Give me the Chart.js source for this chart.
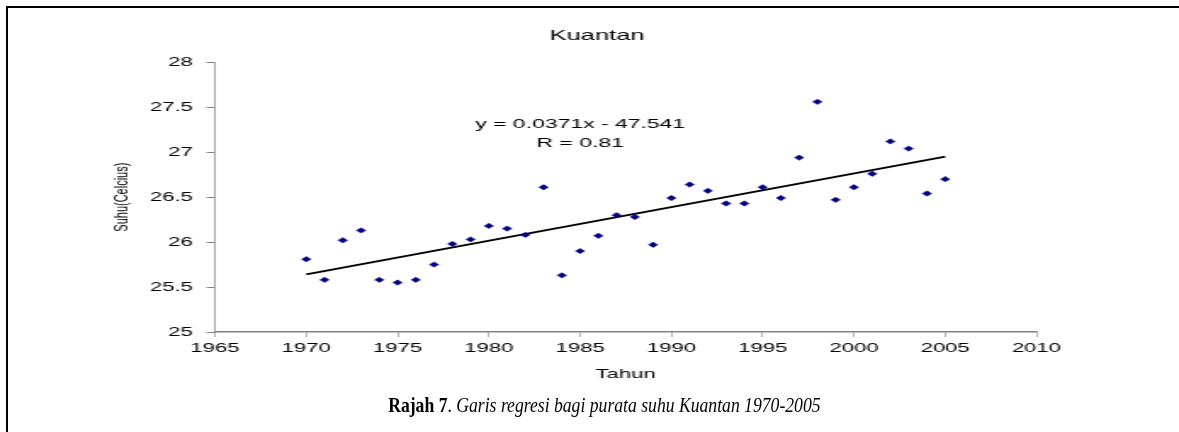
<!DOCTYPE html>
<html>
<head>
<meta charset="utf-8">
<title>Kuantan</title>
<script src="https://cdn.jsdelivr.net/npm/chart.js@4/dist/chart.umd.min.js"></script>
<style>
  body { margin: 0; width: 1179px; height: 432px; overflow: hidden; background: #fff; position: relative; }
  #frame { position: absolute; left: 6px; top: 6px; right: 0; bottom: 0; border-left: 2px solid #000; border-top: 2px solid #000; }
  /* the original chart is stretched sideways, so the canvas is too */
  #wrap { position: absolute; left: 0; top: 0; width: 694px; height: 432px; transform: scaleX(1.69885); transform-origin: 0 0; }
  #caption { position: absolute; left: 0; top: 391px; width: 1208px; line-height: 28px; text-align: center;
             font-family: "Liberation Serif", "Times New Roman", serif; font-size: 21px; color: #000; }
  #caption span { display: inline-block; transform: scaleX(0.84); white-space: nowrap; }
</style>
</head>
<body>
<div id="frame"></div>
<div id="wrap"><canvas id="chart" width="694" height="432"></canvas></div>
<div id="caption"><span><b>Rajah 7</b>. <i>Garis regresi bagi purata suhu Kuantan 1970-2005</i></span></div>
<script>
const chartTitle = 'Kuantan';
const xTitle = 'Tahun';
const yTitle = 'Suhu(Celcius)';
const equationLines = ['y = 0.0371x - 47.541', 'R = 0.81'];

const years = [1970, 1971, 1972, 1973, 1974, 1975, 1976, 1977, 1978, 1979,
               1980, 1981, 1982, 1983, 1984, 1985, 1986, 1987, 1988, 1989,
               1990, 1991, 1992, 1993, 1994, 1995, 1996, 1997, 1998, 1999,
               2000, 2001, 2002, 2003, 2004, 2005];
const temps = [25.81, 25.58, 26.02, 26.13, 25.58, 25.55, 25.58, 25.75, 25.98, 26.03,
               26.18, 26.15, 26.08, 26.61, 25.63, 25.90, 26.07, 26.30, 26.28, 25.97,
               26.49, 26.64, 26.57, 26.43, 26.43, 26.61, 26.49, 26.94, 27.56, 26.47,
               26.61, 26.76, 27.12, 27.04, 26.54, 26.70];

// trend line ends as drawn in the picture
const trendYears = [1970, 2005];
const trendTemps = [25.64, 26.95];

const xTicks = [1965, 1970, 1975, 1980, 1985, 1990, 1995, 2000, 2005, 2010];
const yTicks = [25, 25.5, 26, 26.5, 27, 27.5, 28];

const font = '"Liberation Sans", Arial, sans-serif';

const textPlugin = {
  id: 'chartText',
  afterDraw(chart) {
    const ctx = chart.ctx;
    const xs = chart.scales.x, ys = chart.scales.y;
    ctx.save();
    ctx.fillStyle = '#000';
    ctx.textAlign = 'center';
    ctx.textBaseline = 'middle';
    ctx.font = '15px ' + font;
    ctx.fillText(chartTitle, 351.4, 36);
    ctx.font = '13.5px ' + font;
    const ex = xs.getPixelForValue(1985);
    const ey = ys.getPixelForValue(27.31);
    equationLines.forEach((t, i) => ctx.fillText(t, ex, ey + i * 19));
    ctx.restore();
  }
};

new Chart(document.getElementById('chart'), {
  type: 'scatter',
  data: {
    datasets: [{
      label: 'Suhu',
      data: years.map((y, i) => ({ x: y, y: temps[i] })),
      pointStyle: 'rectRot',
      pointRadius: 2.7,
      borderWidth: 0.5,
      backgroundColor: '#000080',
      borderColor: '#000080'
    }, {
      type: 'line',
      label: 'Trend',
      data: trendYears.map((y, i) => ({ x: y, y: trendTemps[i] })),
      borderColor: '#000',
      borderWidth: 1.8,
      pointRadius: 0,
      fill: false
    }]
  },
  options: {
    responsive: false,
    animation: false,
    events: [],
    layout: { padding: { left: 60, right: 83.9, top: 62.3, bottom: 50 } },
    plugins: { legend: { display: false }, tooltip: { enabled: false }, title: { display: false } },
    scales: {
      x: {
        type: 'linear',
        min: xTicks[0], max: xTicks[xTicks.length - 1],
        afterBuildTicks: s => { s.ticks = xTicks.map(v => ({ value: v })); },
        afterFit: s => { s.height = 50; },
        ticks: { color: '#000', font: { family: font, size: 13 }, padding: 4, callback: v => String(v), maxRotation: 0 },
        grid: { drawOnChartArea: false, drawTicks: true, tickLength: 5, color: '#808080', lineWidth: 0.6 },
        border: { color: '#808080', width: 1.5 },
        title: { display: true, text: xTitle, color: '#000', font: { family: font, size: 13 }, padding: { top: 0, bottom: 0 } }
      },
      y: {
        min: yTicks[0], max: yTicks[yTicks.length - 1],
        afterBuildTicks: s => { s.ticks = yTicks.map(v => ({ value: v })); },
        afterFit: s => { s.width = 66.56; },
        ticks: { color: '#000', font: { family: font, size: 13 }, padding: 8, callback: v => String(v) },
        grid: { drawOnChartArea: false, drawTicks: true, tickLength: 5, color: '#808080', lineWidth: 1 },
        border: { color: '#808080', width: 0.7 },
        title: { display: true, text: yTitle, color: '#000', font: { family: font, size: 11 }, padding: { top: 5.2, bottom: 0 } }
      }
    }
  },
  plugins: [textPlugin]
});
</script>
</body>
</html>
